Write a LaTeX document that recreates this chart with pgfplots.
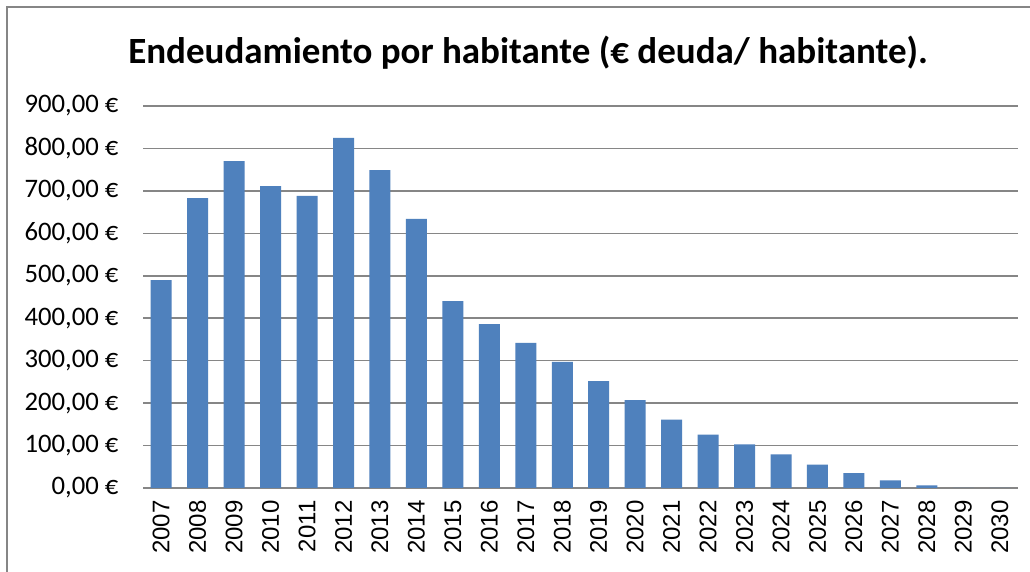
\documentclass[border=0pt]{standalone}
\usepackage{fontspec}
\setmainfont{Carlito}
\newfontfamily\arialf{Liberation Sans}
\usepackage{pgfplots}
\pgfplotsset{compat=1.18}
\definecolor{barblue}{HTML}{4F81BD}
\definecolor{baredge}{HTML}{A7BFDE}
\definecolor{gridgray}{HTML}{868686}
\begin{document}
\begin{tikzpicture}[x=1pt,y=1pt]
\useasboundingbox (0,0) rectangle (1030,572);
\fill[white] (0,0) rectangle (1030,572);
\draw[gridgray, line width=2pt] (7,-5) -- (7,565) -- (1040,565);
\node[font=\fontsize{37}{40}\selectfont\bfseries] at (528,519) {Endeudamiento por habitante (€ deuda/ habitante).};
\begin{axis}[
  at={(143pt,84pt)}, anchor=south west,
  scale only axis, width=875pt, height=382pt,
  xmin=-0.5, xmax=23.5, ymin=0, ymax=900,
  ytick={0,100,...,900},
  yticklabels={{0,00 €},{100,00 €},{200,00 €},{300,00 €},{400,00 €},{500,00 €},{600,00 €},{700,00 €},{800,00 €},{900,00 €}},
  yticklabel style={font=\fontsize{26.7}{27}\selectfont, xshift=-21pt},
  xtick=data,
  xticklabels={2007,2008,2009,2010,2011,2012,2013,2014,2015,2016,2017,2018,2019,2020,2021,2022,2023,2024,2025,2026,2027,2028,2029,2030},
  xticklabel style={font=\arialf\fontsize{24}{24}\selectfont, rotate=90, anchor=east, xshift=-9pt},
  major tick length=0pt,
  axis line style={draw=none},
  ymajorgrids, major grid style={gridgray, line width=1.6pt},
  clip=false,
]
\addplot[ybar, bar width=21pt, fill=barblue, draw=none] coordinates {
(0,490) (1,683) (2,770) (3,711) (4,688) (5,825) (6,749) (7,634)
(8,440) (9,386) (10,342) (11,297) (12,252) (13,207) (14,161) (15,126)
(16,103) (17,79) (18,55) (19,35) (20,18) (21,6) (22,0) (23,0)
};
\end{axis}
\end{tikzpicture}
\end{document}
